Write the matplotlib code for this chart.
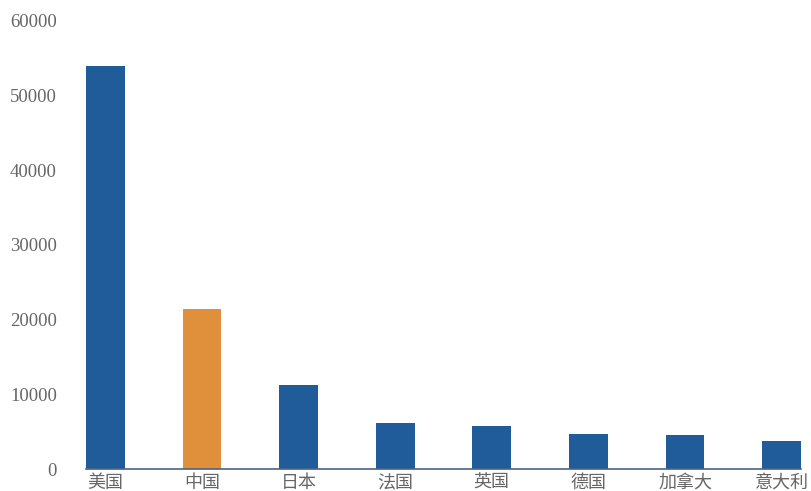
import matplotlib
matplotlib.use("Agg")
import matplotlib.pyplot as plt

countries = ['美国', '中国', '日本', '法国', '英国', '德国', '加拿大', '意大利']
values = [54000, 21400, 11300, 6100, 5800, 4700, 4500, 3700]
bar_colors = ['#1f5c99', '#e0903a', '#1f5c99', '#1f5c99', '#1f5c99', '#1f5c99', '#1f5c99', '#1f5c99']
yticks = [0, 10000, 20000, 30000, 40000, 50000, 60000]

fig = plt.figure(figsize=(8.11, 4.91), dpi=100)
ax = fig.add_axes([86 / 811, 1 - 469 / 491, 715 / 811, 448 / 491])

x = list(range(len(countries)))
ax.bar(x, values, width=0.4, color=bar_colors)

ax.set_xlim(-0.2, len(countries) - 0.8)
ax.set_ylim(0, 60000)
ax.set_yticks(yticks)
ax.set_yticklabels([str(v) for v in yticks], family=['Liberation Serif', 'DejaVu Serif'],
                   fontsize=13.5, color='#666666')
ax.set_xticks(x)
ax.set_xticklabels(countries, family=['Noto Sans CJK SC', 'DejaVu Sans'],
                   fontsize=13, color='#666666')

for side in ['top', 'right', 'left']:
    ax.spines[side].set_visible(False)
ax.spines['bottom'].set_color('#4a6582')
ax.spines['bottom'].set_linewidth(1.2)
ax.tick_params(axis='y', length=0, pad=21)
ax.tick_params(axis='x', length=0, pad=3.5)

fig.savefig('out.png', dpi=100)
